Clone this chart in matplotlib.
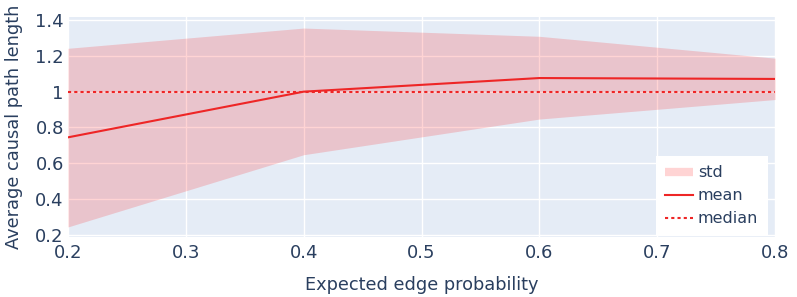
import numpy as np
import matplotlib
matplotlib.use("Agg")
import matplotlib.pyplot as plt
from matplotlib.lines import Line2D

plt.rcParams['font.family'] = ['DejaVu Sans']

# 数据：从图中读取
edge_prob = [0.2, 0.4, 0.6, 0.8]
path_mean = [0.745, 1.0, 1.076, 1.071]
path_median = [1.0, 1.0, 1.0, 1.0]
std_upper = [1.242, 1.355, 1.309, 1.187]
std_lower = [0.245, 0.648, 0.847, 0.956]

x_ticks = [0.2, 0.3, 0.4, 0.5, 0.6, 0.7, 0.8]
x_tick_labels = ["0.2", "0.3", "0.4", "0.5", "0.6", "0.7", "0.8"]
y_ticks = [0.2, 0.4, 0.6, 0.8, 1.0, 1.2, 1.4]
y_tick_labels = ["0.2", "0.4", "0.6", "0.8", "1", "1.2", "1.4"]

text_color = '#2a3f5f'
line_color = '#ee2626'
fs_tick = 13
fs_title = 12.75
fs_leg = 11.5

fig = plt.figure(figsize=(7.97, 2.97), dpi=100)
ax = fig.add_axes([68 / 797, 60 / 297, 707 / 797, 220 / 297])
ax.set_facecolor('#e5ecf6')

# 标准差区域、均值、中位数
ax.fill_between(edge_prob, std_lower, std_upper, color=(1, 0, 0, 0.17), linewidth=0)
ax.plot(edge_prob, path_mean, color=line_color, linewidth=1.5)
ax.plot(edge_prob, path_median, color=line_color, linewidth=1.5, linestyle=(0, (1.5, 1.5)))

ax.set_xlim(0.2, 0.8)
ax.set_ylim(0.1888, 1.4167)
ax.set_xticks(x_ticks, x_tick_labels)
ax.set_yticks(y_ticks, y_tick_labels)
ax.tick_params(length=0, labelsize=fs_tick, labelcolor=text_color)
ax.tick_params(axis='x', pad=5)
ax.tick_params(axis='y', pad=3)
ax.grid(True, color='white', linewidth=1)
ax.set_axisbelow(True)
for s in ax.spines.values():
    s.set_visible(False)

ax.set_xlabel("Expected edge probability", fontsize=fs_title, color=text_color)
ax.xaxis.set_label_coords(0.5, -0.175)
ax.set_ylabel("Average causal path length", fontsize=fs_title, color=text_color)
ax.yaxis.set_label_coords(-0.063, 0.5)

handles = [
    Line2D([], [], color=(1, 0, 0, 0.17), linewidth=6, solid_capstyle='butt'),
    Line2D([], [], color=line_color, linewidth=1.5),
    Line2D([], [], color=line_color, linewidth=1.5, linestyle=(0, (1.5, 1.5))),
]
leg = ax.legend(handles, ["std", "mean", "median"], loc='lower right',
                bbox_to_anchor=(0.99, 0.005), borderaxespad=0, fontsize=fs_leg,
                frameon=True, fancybox=False, handlelength=1.75, handletextpad=0.3,
                labelspacing=0.5, borderpad=0.6, framealpha=1)
leg.get_frame().set_facecolor('white')
leg.get_frame().set_linewidth(0)
for t in leg.get_texts():
    t.set_color(text_color)

fig.savefig("out.png", dpi=100)
